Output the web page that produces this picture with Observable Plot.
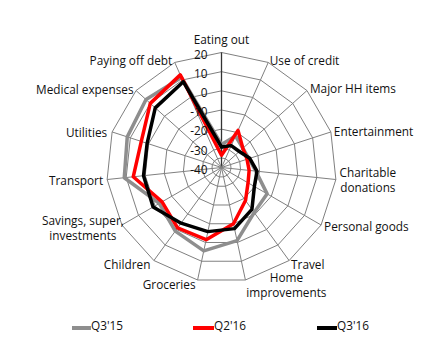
<!DOCTYPE html>
<html>
<head>
<meta charset="utf-8">
<script src="https://cdn.jsdelivr.net/npm/d3@7"></script>
<script src="https://cdn.jsdelivr.net/npm/@observablehq/plot@0.6"></script>
<style>
  html, body { margin: 0; padding: 0; background: #fff; }
  #wrap { position: relative; width: 421px; height: 349px; overflow: hidden; font-family: "Open Sans", sans-serif; }
  .lg { position: absolute; top: 318px; font-size: 11.8px; color: #111; line-height: 15px; }
  .sw { position: absolute; top: 326px; height: 4px; }
</style>
</head>
<body>
<div id="wrap"></div>
<script>
// ---- data ----
const categories = ["Eating out", "Use of credit", "Major HH items", "Entertainment",
  "Charitable\ndonations", "Personal goods", "Travel", "Home\nimprovements", "Groceries",
  "Children", "Savings, super,\ninvestments", "Transport", "Utilities", "Medical expenses",
  "Paying off debt"];
const seriesNames = ["Q3'15", "Q2'16", "Q3'16"];
const q315 = [-28, -22, -25, -25, -22, -12.5, -11, -1, 4.5, 1, -2.5, 11, 11.7, 13, 11.4];
const q216 = [-33.6, -18.8, -25, -26, -25.5, -24, -18.7, -10, -1.5, -1, -4.2, 6.3, 4, 10, 12.9];
const q316 = [-29.3, -27.5, -27.5, -24.5, -21.4, -20.2, -13, -7.4, -5.8, -4.1, 1.2, 0.9, 0.8, 6.5, 9];
const tickValues = [20, 10, 0, -10, -20, -30, -40];
const gridValues = [-35, -30, -20, -10, 0, 10, 20];
const seriesColors = ["#8e8e8e", "#ff0000", "#000000"];

// ---- layout (style only) ----
const labelLayout = [
  {anchor: "middle", dx: 0, dy: -13.5},
  {anchor: "start", dx: 1.5, dy: -2.5},
  {anchor: "start", dx: 3, dy: -2},
  {anchor: "start", dx: 3, dy: -1},
  {anchor: "middle", dx: 32, dy: 0},
  {anchor: "start", dx: 3, dy: 1},
  {anchor: "start", dx: 2, dy: 3.5},
  {anchor: "middle", dx: 41, dy: 4.5},
  {anchor: "end", dx: -2, dy: 4.5},
  {anchor: "end", dx: -3.5, dy: 3.5},
  {anchor: "middle", dx: -39, dy: 2.5},
  {anchor: "end", dx: -4, dy: 1},
  {anchor: "end", dx: -5, dy: 0},
  {anchor: "end", dx: -2.5, dy: -1.5},
  {anchor: "end", dx: -2.5, dy: -2.5}
];

const minV = -40, maxV = 20;
const n = categories.length;
const W = 421, H = 349, cx = 221, cy = 167, R = 115;
const k = R / (maxV - minV);
const ang = i => 2 * Math.PI * i / n;
const rad = v => v - minV;
const px = (i, v) => rad(v) * Math.sin(ang(i));
const py = (i, v) => rad(v) * Math.cos(ang(i));

const rings = [];
gridValues.forEach(g => { for (let i = 0; i <= n; i++) rings.push({g, x: px(i % n, g), y: py(i % n, g)}); });
const spokes = categories.map((c, i) => ({i, x2: px(i, maxV), y2: py(i, maxV)}));
const allSeries = [q315, q216, q316];
const rows = [];
allSeries.forEach((vals, s) => {
  for (let i = 0; i <= n; i++) rows.push({series: seriesNames[s], x: px(i % n, vals[i % n]), y: py(i % n, vals[i % n])});
});

const FS = 11.8;
const labelMarks = categories.map((c, i) => Plot.text([{t: c, x: px(i, maxV), y: py(i, maxV)}], {
  x: "x", y: "y", text: "t", textAnchor: labelLayout[i].anchor,
  dx: labelLayout[i].dx, dy: labelLayout[i].dy, fill: "#111111", fontSize: FS, lineHeight: 1.25
}));

const chart = Plot.plot({
  width: W, height: H, margin: 0,
  x: {domain: [-cx / k, (W - cx) / k], axis: null},
  y: {domain: [-(H - cy) / k, cy / k], axis: null},
  color: {domain: seriesNames, range: seriesColors},
  style: {fontFamily: "Open Sans, sans-serif", fontSize: FS + "px", background: "transparent"},
  marks: [
    Plot.line(rings, {x: "x", y: "y", z: "g", stroke: "#808080", strokeWidth: 1}),
    Plot.link(spokes, {x1: d => 0, y1: d => 0, x2: "x2", y2: "y2",
      stroke: d => d.i === 0 ? "#333333" : "#808080", strokeWidth: d => d.i === 0 ? 1.3 : 1}),
    Plot.line(rows, {x: "x", y: "y", z: "series", stroke: "series", strokeWidth: 3.5, strokeLinejoin: "round"}),
    Plot.text(tickValues, {x: d => 0, y: d => rad(d), text: d => String(d), textAnchor: "end", dx: -14, dy: 2.5, fill: "#111111", fontSize: FS}),
    ...labelMarks
  ]
});
const wrap = document.getElementById("wrap");
wrap.appendChild(chart);

// legend
const legendLeft = [[72, 91], [193, 214], [317, 337]];
seriesNames.forEach((s, j) => {
  const sw = document.createElement("div");
  sw.className = "sw";
  sw.style.left = legendLeft[j][0] + "px";
  sw.style.width = (legendLeft[j][1] - legendLeft[j][0]) + "px";
  sw.style.background = seriesColors[j];
  wrap.appendChild(sw);
  const t = document.createElement("div");
  t.className = "lg";
  t.style.left = legendLeft[j][1] + "px";
  t.textContent = s;
  wrap.appendChild(t);
});
</script>
</body>
</html>
